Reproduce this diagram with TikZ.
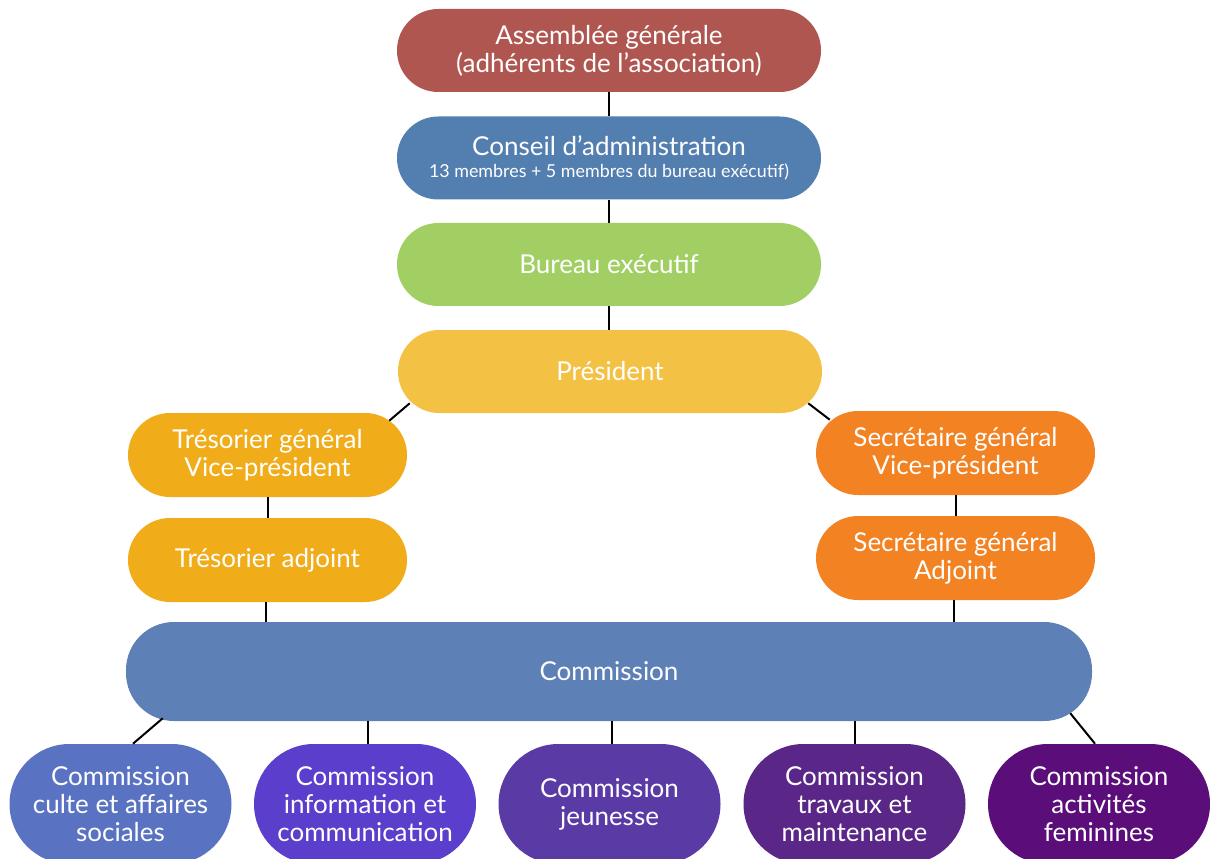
\documentclass[tikz,border=0pt]{standalone}
\usepackage{fontspec}
\setmainfont{Lato}
\usetikzlibrary{calc}
\definecolor{cAG}{HTML}{B05651}
\definecolor{cCA}{HTML}{527EB0}
\definecolor{cBE}{HTML}{A1CF63}
\definecolor{cPR}{HTML}{F3C244}
\definecolor{cTR}{HTML}{F0AC19}
\definecolor{cSG}{HTML}{F28222}
\definecolor{cCO}{HTML}{5D80B7}
\definecolor{cB1}{HTML}{5A72C2}
\definecolor{cB2}{HTML}{5B3ECB}
\definecolor{cB3}{HTML}{5A3AA4}
\definecolor{cB4}{HTML}{5A2789}
\definecolor{cB5}{HTML}{5B0D7A}
\tikzset{
  pill/.style={rectangle, rounded corners=31pt, minimum width=318pt, minimum height=62.25pt,
    inner sep=0pt, align=center, text=white, font=\fontsize{19.5}{21}\selectfont},
  side/.style={pill, minimum width=209.25pt, minimum height=63pt, rounded corners=31.5pt},
  commbox/.style={pill, minimum width=724.5pt, minimum height=74.25pt, rounded corners=36pt},
  leaf/.style={pill, minimum width=166.5pt, minimum height=90pt, rounded corners=45pt},
  link/.style={draw=black, line width=1.5pt}
}
\begin{document}
\begin{tikzpicture}[x=0.75pt,y=-0.75pt]
\useasboundingbox (0,0) rectangle (1210,859);
\clip (0,0) rectangle (1210,859);
\fill[white] (0,0) rectangle (1210,859);
% main chain
\node[pill, fill=cAG] (ag) at (609,50.5) {Assemblée générale\\(adhérents de l’association)};
\node[pill, fill=cCA] (ca) at (609,158) {Conseil d’administration\\[-4pt]{\fontsize{13.4}{15}\selectfont 13 membres + 5 membres du bureau exécutif)}};
\node[pill, fill=cBE] (be) at (609,264.5) {Bureau exécutif};
\node[pill, fill=cPR] (pr) at (610,371.5) {Président};
% treasurer branch
\node[side, fill=cTR] (tg) at (267.5,455) {Trésorier général\\Vice-président};
\node[side, fill=cTR] (ta) at (267.5,560) {Trésorier adjoint};
% secretary branch
\node[side, fill=cSG] (sg) at (955.5,453) {Secrétaire général\\Vice-président};
\node[side, fill=cSG] (sa) at (955.5,558) {Secrétaire général\\Adjoint};
% commissions
\node[commbox, fill=cCO] (co) at (609,671.5) {Commission};
\node[leaf, fill=cB1] (b1) at (120.5,804) {Commission\\culte et affaires\\sociales};
\node[leaf, fill=cB2] (b2) at (365,804) {Commission\\information et\\communication};
\node[leaf, fill=cB3] (b3) at (609.5,804) {Commission\\jeunesse};
\node[leaf, fill=cB4] (b4) at (854.5,804) {Commission\\travaux et\\maintenance};
\node[leaf, fill=cB5] (b5) at (1099,804) {Commission\\activités\\feminines};
% attachment points on the box edges
\coordinate (taout) at ($(ta.south)+(-2,0)$);
\coordinate (saout) at ($(sa.south)+(-2,0)$);
\coordinate (b2in) at ($(b2.north)+(3,0)$);
\coordinate (b3in) at ($(b3.north)+(2.5,0)$);
% connectors
\draw[link] (ag.south) -- (ca.north);
\draw[link] (ca.south) -- (be.north);
\draw[link] (be.south) -- (be.south |- pr.north);
\draw[link] ($(pr.south west)+(12,-10)$) -- ($(tg.north east)+(-18,8)$);
\draw[link] ($(pr.south east)+(-14,-10)$) -- ($(sg.north west)+(14,9)$);
\draw[link] (tg.south) -- (ta.north);
\draw[link] (sg.south) -- (sa.north);
\draw[link] (taout) -- (taout |- co.north);
\draw[link] (saout) -- (saout |- co.north);
\draw[link] ($(co.south west)+(37,-3)$) -- ($(b1.north)+(12.5,0)$);
\draw[link] (b2in |- co.south) -- (b2in);
\draw[link] (b3in |- co.south) -- (b3in);
\draw[link] (b4.north |- co.south) -- (b4.north);
\draw[link] ($(co.south east)+(-22,-8)$) -- ($(b5.north)+(-4,0)$);
\end{tikzpicture}
\end{document}
